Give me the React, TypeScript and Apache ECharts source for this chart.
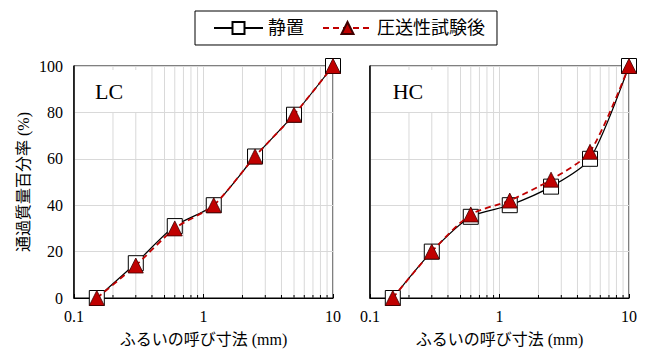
import React, { useEffect, useRef } from "react";
import * as echarts from "echarts";

// Sieve sizes (mm) and passing percentages
const sieveSizes = [0.15, 0.3, 0.6, 1.2, 2.5, 5, 10];
const lcStatic = [0, 15, 31, 40, 61, 79, 100];
const lcPumped = [0, 14, 30, 40, 61, 79, 100];
const hcStatic = [0, 20, 35, 40, 48, 60, 100];
const hcPumped = [0, 20, 36, 42, 51, 63, 100];

const seriesNames = ["静置", "圧送性試験後"];
const panelLabels = ["LC", "HC"];
const minorSizes = [0.2, 0.3, 0.4, 0.5, 0.6, 0.7, 0.8, 0.9, 2, 3, 4, 5, 6, 7, 8, 9];
const yTicks = { min: 0, max: 100, interval: 20 };

const FONT = "'Liberation Serif', 'Noto Sans CJK JP', serif";
const RED = "#c00000";

const pairs = (ys: number[]) => sieveSizes.map((x, i) => [x, ys[i]]);

export default function App() {
  const ref = useRef<HTMLDivElement>(null);

  useEffect(() => {
    if (!ref.current) return;
    const chart = echarts.init(ref.current, undefined, { renderer: "svg" });

    const grids = [
      { left: 74, top: 66, width: 259, height: 235 },
      { left: 370, top: 66, width: 259, height: 235 },
    ];

    const xAxes = grids.map((_, i) => ({
      type: "log",
      logBase: 10,
      min: 0.1,
      max: 10,
      gridIndex: i,
      name: "ふるいの呼び寸法 (mm)",
      nameLocation: "middle",
      nameGap: 33,
      nameTextStyle: { fontFamily: FONT, fontSize: 16, color: "#000" },
      axisLine: { show: true, lineStyle: { color: "#000", width: 1.2 } },
      axisTick: { show: true, inside: true, length: 4, lineStyle: { color: "#000" } },
      axisLabel: {
        fontFamily: FONT,
        fontSize: 16,
        color: "#000",
        margin: 10,
        formatter: (v: number) => String(v),
      },
      splitLine: { show: true, lineStyle: { color: "#d9d9d9", width: 1 } },
    }));

    const yAxes = grids.map((_, i) => ({
      type: "value",
      gridIndex: i,
      min: yTicks.min,
      max: yTicks.max,
      interval: yTicks.interval,
      name: i === 0 ? "通過質量百分率 (%)" : "",
      nameLocation: "middle",
      nameGap: 43,
      nameRotate: 90,
      nameTextStyle: { fontFamily: FONT, fontSize: 16, color: "#000" },
      axisLine: { show: true, lineStyle: { color: "#000", width: 1.5 } },
      axisTick: { show: false },
      axisLabel: {
        show: i === 0,
        fontFamily: FONT,
        fontSize: 16,
        color: "#000",
        margin: 11,
      },
      splitLine: { show: true, lineStyle: { color: "#d9d9d9", width: 1 } },
    }));

    const panelData = [
      [lcStatic, lcPumped],
      [hcStatic, hcPumped],
    ];

    const series: any[] = [];
    grids.forEach((_, i) => {
      // minor log gridlines and inside ticks
      series.push({
        type: "custom",
        xAxisIndex: i,
        yAxisIndex: i,
        silent: true,
        z: 1,
        data: minorSizes.map((x) => [x, 0]),
        encode: { x: 0, y: 1 },
        renderItem: (params: any, api: any) => {
          const x = api.value(0);
          const b = api.coord([x, 0]);
          const t = api.coord([x, 100]);
          return {
            type: "group",
            children: [
              {
                type: "line",
                shape: { x1: b[0], y1: b[1], x2: t[0], y2: t[1] },
                style: { stroke: "#d9d9d9", lineWidth: 1 },
              },
              {
                type: "line",
                shape: { x1: b[0], y1: b[1], x2: b[0], y2: b[1] - 3 },
                style: { stroke: "#000", lineWidth: 1 },
              },
            ],
          };
        },
      });
      series.push({
        name: seriesNames[0],
        type: "line",
        xAxisIndex: i,
        yAxisIndex: i,
        z: 3,
        smooth: 0.25,
        data: pairs(panelData[i][0]),
        symbol: "rect",
        symbolSize: 15,
        itemStyle: { color: "#fff", borderColor: "#000", borderWidth: 1 },
        lineStyle: { color: "#000", width: 1.2, type: "solid" },
      });
      series.push({
        name: seriesNames[1],
        type: "line",
        xAxisIndex: i,
        yAxisIndex: i,
        z: 4,
        smooth: 0.25,
        data: pairs(panelData[i][1]),
        symbol: "triangle",
        symbolSize: 15,
        itemStyle: { color: RED, borderColor: "#400000", borderWidth: 0.8 },
        lineStyle: { color: RED, width: 1.8, type: [6, 4] },
      });
    });

    chart.setOption({
      animation: false,
      backgroundColor: "#fff",
      grid: grids.map((g) => ({ ...g, show: true, borderColor: "#000", borderWidth: 1 })),
      xAxis: xAxes,
      yAxis: yAxes,
      legend: {
        data: seriesNames,
        left: 195,
        top: 11,
        itemWidth: 49,
        itemHeight: 15,
        itemGap: 18,
        padding: [8, 12, 8, 18],
        borderColor: "#000",
        borderWidth: 1,
        textStyle: { fontFamily: FONT, fontSize: 18, color: "#000" },
      },
      graphic: panelLabels.map((label, i) => ({
        type: "text",
        z: 100,
        x: i === 0 ? 109 : 408,
        y: 91,
        style: {
          text: label,
          fontFamily: FONT,
          fontSize: 22,
          fill: "#000",
          align: "center",
          verticalAlign: "middle",
          backgroundColor: "#fff",
          padding: [10, 14],
        },
      })),
      series,
    });

    return () => chart.dispose();
  }, []);

  return (
    <div
      ref={ref}
      style={{ position: "fixed", left: 0, top: 0, width: 652, height: 352 }}
    />
  );
}
